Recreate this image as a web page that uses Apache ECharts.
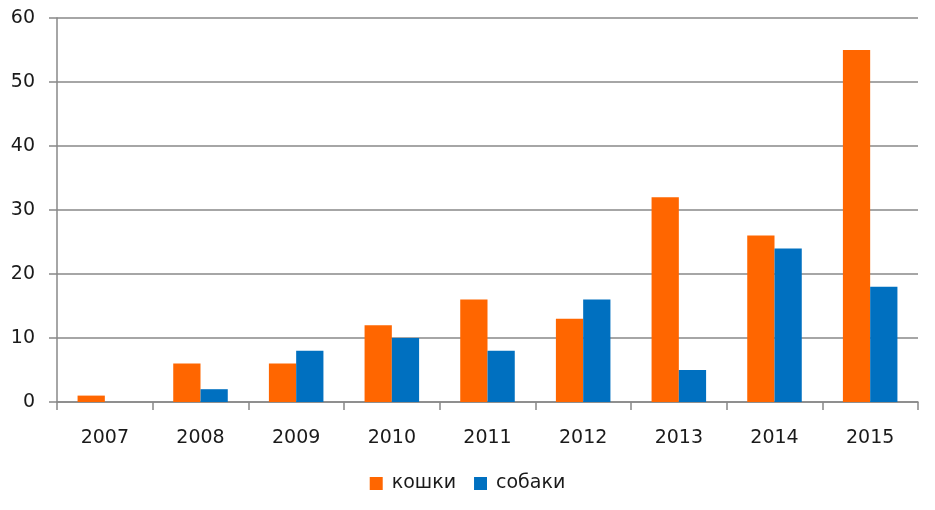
<!DOCTYPE html>
<html>
<head>
<meta charset="utf-8">
<script src="https://cdn.jsdelivr.net/npm/echarts@6/dist/echarts.min.js"></script>
<style>html,body{margin:0;padding:0;background:#fff}#c{width:935px;height:510px}</style>
</head>
<body>
<div id="c"></div>
<script>
const categories = ['2007','2008','2009','2010','2011','2012','2013','2014','2015'];
const cats = [1, 6, 6, 12, 16, 13, 32, 26, 55];
const dogs = [0, 2, 8, 10, 8, 16, 5, 24, 18];
const seriesNames = ['кошки', 'собаки'];

const chart = echarts.init(document.getElementById('c'), null, {renderer: 'canvas'});
const font = 'DejaVu Sans, sans-serif';
chart.setOption({
  animation: false,
  backgroundColor: '#fff',
  grid: {left: 57, right: 17, top: 18, bottom: 108, containLabel: false},
  legend: {
    bottom: 12, left: 'center',
    itemWidth: 13, itemHeight: 13, itemGap: 18,
    icon: 'rect',
    textStyle: {fontFamily: font, fontSize: 19, color: '#1a1a1a', padding: [0, 0, 0, 4]},
    data: seriesNames
  },
  xAxis: {
    type: 'category', data: categories,
    axisLine: {show: true, lineStyle: {color: '#888', width: 1.5}},
    axisTick: {show: true, length: 8, lineStyle: {color: '#888', width: 1.5}},
    axisLabel: {fontFamily: font, fontSize: 19, color: '#1a1a1a', margin: 27}
  },
  yAxis: {
    type: 'value', min: 0, max: 60, interval: 10,
    axisLine: {show: true, lineStyle: {color: '#888', width: 1.5}},
    axisTick: {show: true, length: 8, lineStyle: {color: '#888', width: 1.5}},
    splitLine: {show: true, lineStyle: {color: '#888', width: 1.5}},
    axisLabel: {fontFamily: font, fontSize: 19, color: '#1a1a1a', margin: 22}
  },
  series: [
    {name: seriesNames[0], type: 'bar', data: cats, barGap: '0%', barCategoryGap: '43%',
     itemStyle: {color: '#FF6600'}},
    {name: seriesNames[1], type: 'bar', data: dogs, barGap: '0%', barCategoryGap: '43%',
     itemStyle: {color: '#0070C0'}}
  ]
});
</script>
</body>
</html>
